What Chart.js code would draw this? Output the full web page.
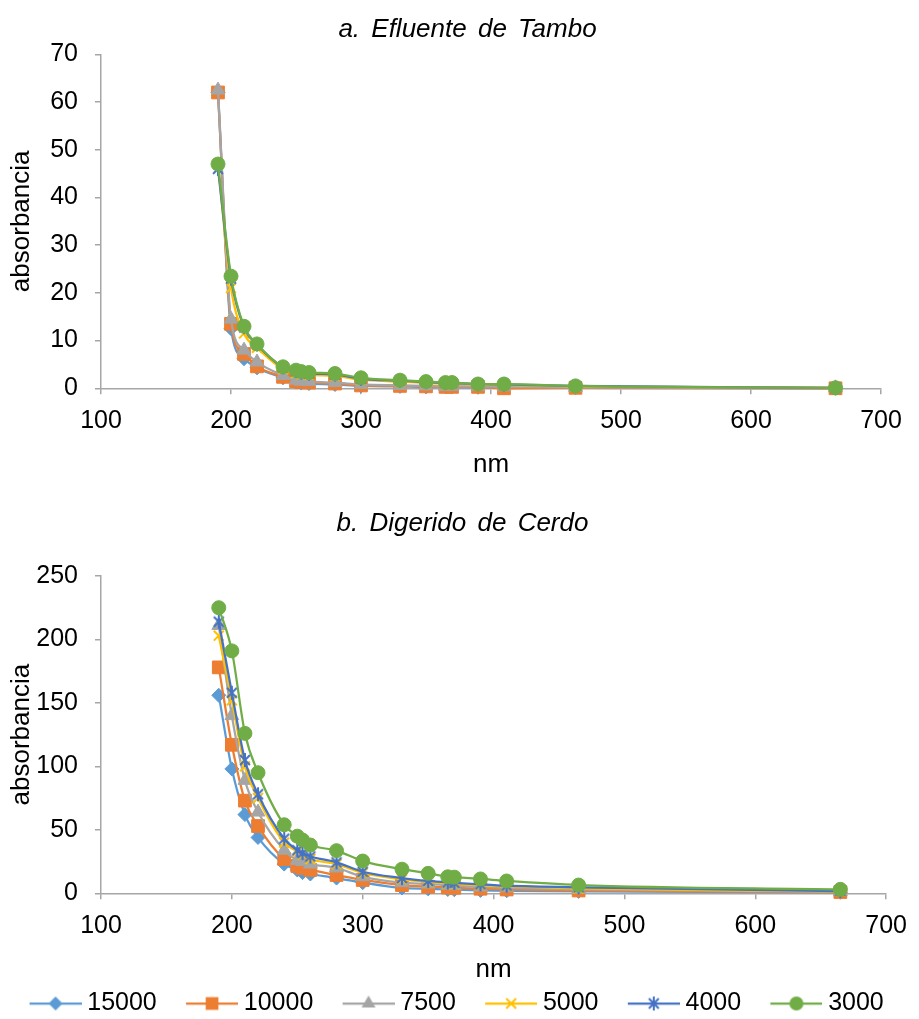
<!DOCTYPE html>
<html>
<head>
<meta charset="utf-8">
<script src="https://cdn.jsdelivr.net/npm/chart.js@4"></script>
<style>
  body { margin: 0; background: #fff; overflow: hidden; }
  canvas { position: absolute; left: 0; }
  #TamboChart { top: 0; }
  #CerdoChart { top: 490px; }
  .panel-title {
    position: absolute; left: 0; width: 919px; height: 26px;
    font: italic 26px "Liberation Sans", Arial, sans-serif; line-height: 26px;
    word-spacing: 4px; color: #000; text-align: center; white-space: pre;
  }
</style>
</head>
<body>
<canvas id="TamboChart" width="919" height="490"></canvas>
<canvas id="CerdoChart" width="919" height="536"></canvas>
<div class="panel-title" style="top:15px; left:8px;">a. Efluente de Tambo</div>
<div class="panel-title" style="top:509px; left:3px;">b. Digerido de Cerdo</div>
<script>
// wavelengths (nm) shared by both panels
const wavelengths = [190, 200, 210, 220, 240, 250, 254, 260, 280, 300, 330, 350, 365, 370, 390, 410, 465, 665];
const seriesNames = ['15000', '10000', '7500', '5000', '4000', '3000'];

// a. Efluente de Tambo
const tambo15000 = [62, 12.5, 6.2, 4.3, 2.2, 1.3, 1.1, 1.0, 0.8, 0.5, 0.4, 0.3, 0.3, 0.3, 0.2, 0.2, 0.1, 0];
const tambo10000 = [62, 13.5, 7.2, 4.6, 2.4, 1.5, 1.3, 1.2, 1.0, 0.6, 0.5, 0.4, 0.3, 0.3, 0.3, 0.0, 0.1, 0];
const tambo7500  = [62.5, 14.5, 8, 5.5, 2.7, 1.7, 1.5, 1.4, 1.2, 0.8, 0.6, 0.5, 0.4, 0.4, 0.4, 0.3, 0.2, 0.1];
const tambo5000  = [47, 21, 11.5, 8.5, 4, 3.2, 3.0, 2.8, 2.6, 1.8, 1.4, 1.1, 1.0, 1.0, 0.8, 0.7, 0.4, 0.1];
const tambo4000  = [46, 23, 12.8, 9.2, 4.4, 3.6, 3.3, 3.1, 2.9, 2.0, 1.6, 1.3, 1.1, 1.1, 0.9, 0.8, 0.5, 0.1];
const tambo3000  = [47, 23.5, 13, 9.3, 4.5, 3.8, 3.5, 3.3, 3.1, 2.2, 1.7, 1.4, 1.2, 1.2, 0.9, 0.9, 0.5, 0.1];

// b. Digerido de Cerdo
const cerdo15000 = [156, 98, 62, 44, 23, 18.4, 16.3, 15.2, 12, 8.4, 4.2, 3.5, 3, 2.8, 2.3, 2, 1.5, 0.8];
const cerdo10000 = [178, 117, 73, 53, 27, 21.5, 20, 18.4, 14.4, 10.5, 6.5, 5.2, 4.5, 4.3, 3.6, 3, 2.2, 1];
const cerdo7500  = [211, 140, 89, 64, 34, 26, 25, 23, 20, 13, 8.4, 7.3, 6.3, 6, 5, 4.3, 3, 1.3];
const cerdo5000  = [203, 152, 100, 75, 40, 33, 30.5, 27, 23, 16, 11, 9, 7.7, 7.4, 6.3, 5.5, 3.8, 1.5];
const cerdo4000  = [214, 158, 105, 78, 43, 34, 31.7, 29, 24.4, 17, 12, 9.7, 8.5, 8.2, 7, 6, 4.7, 1.8];
const cerdo3000  = [225, 191, 126, 95, 54, 45, 42, 38, 33.6, 25.4, 19, 15.7, 13, 12.7, 11.3, 9.7, 6.5, 3.1];

const xTicks = { min: 100, max: 700, step: 100 };
const tamboY = { min: 0, max: 70, step: 10 };
const cerdoY = { min: 0, max: 250, step: 50 };

let colors = ['#5B9BD5', '#ED7D31', '#A5A5A5', '#FFC000', '#4472C4', '#70AD47'];
let markers = ['rectRot', 'rect', 'triangle', 'crossRot', 'asterisk', 'circle'];
let markerSize = [7, 9, 8, 7, 7, 7];
let AxisGray = '#A6A6A6';

Chart.defaults.font.family = '"Liberation Sans", Arial, sans-serif';
Chart.defaults.font.size = 25;
Chart.defaults.color = '#000';

// draws one marker shape (used for the legend pictures and the asterisk)
function drawMarker(ctx, style, cx, cy, r) {
    ctx.beginPath();
    if (style === 'rectRot') {
        ctx.moveTo(cx, cy - r); ctx.lineTo(cx + r, cy); ctx.lineTo(cx, cy + r); ctx.lineTo(cx - r, cy);
        ctx.closePath(); ctx.fill();
    } else if (style === 'rect') {
        let s = r * Math.SQRT1_2;
        ctx.rect(cx - s, cy - s, 2 * s, 2 * s); ctx.fill();
    } else if (style === 'triangle') {
        for (let k = 0; k < 3; k++) {
            let a = k * 2 * Math.PI / 3;
            ctx.lineTo(cx + Math.sin(a) * r, cy - Math.cos(a) * r);
        }
        ctx.closePath(); ctx.fill();
    } else if (style === 'circle') {
        ctx.arc(cx, cy, r, 0, 2 * Math.PI); ctx.fill();
    } else {
        let d = r * Math.SQRT1_2;
        ctx.moveTo(cx - d, cy - d); ctx.lineTo(cx + d, cy + d);
        ctx.moveTo(cx + d, cy - d); ctx.lineTo(cx - d, cy + d);
        if (style === 'asterisk') {
            ctx.moveTo(cx, cy - r); ctx.lineTo(cx, cy + r);
        }
        ctx.stroke();
    }
}

// Excel style asterisk (X with a vertical bar) as an image point style
function makeAsterisk(color, r) {
    let c = document.createElement('canvas');
    c.width = 2 * r + 4; c.height = 2 * r + 4;
    let ctx = c.getContext('2d');
    ctx.strokeStyle = color;
    ctx.lineWidth = 2;
    drawMarker(ctx, 'asterisk', c.width / 2, c.height / 2, r);
    return c;
}
let asteriskImg = makeAsterisk(colors[4], markerSize[4]);

function makeIcon(i) {
    let c = document.createElement('canvas');
    c.width = 78; c.height = 22;
    let ctx = c.getContext('2d');
    ctx.strokeStyle = colors[i];
    ctx.fillStyle = colors[i];
    ctx.lineWidth = 2.25;
    ctx.beginPath(); ctx.moveTo(26, 11); ctx.lineTo(78, 11); ctx.stroke();
    ctx.lineWidth = 2;
    drawMarker(ctx, markers[i], 52, 11, markerSize[i]);
    return c;
}
let icons = seriesNames.map((n, i) => makeIcon(i));

function buildDatasets(series) {
    return series.map((values, i) => ({
        label: seriesNames[i],
        data: values.map((v, j) => ({ x: wavelengths[j], y: v })),
        borderColor: colors[i],
        backgroundColor: colors[i],
        borderWidth: 2.25,
        pointStyle: markers[i] === 'asterisk' ? asteriskImg : markers[i],
        pointRadius: markerSize[i],
        pointBorderWidth: markers[i] === 'crossRot' ? 2 : 1,
        pointBackgroundColor: colors[i],
        pointBorderColor: colors[i],
        cubicInterpolationMode: 'monotone',
        clip: false,
        order: series.length - i
    }));
}

function makeChart(id, series, yRange, opt) {
    let ctx = document.getElementById(id).getContext('2d');
    return new Chart(ctx, {
        type: 'line',
        data: { datasets: buildDatasets(series) },
        options: {
            responsive: false,
            animation: false,
            layout: { padding: { left: 0, right: opt.padRight, top: opt.padTop, bottom: 0 } },
            plugins: {
                tooltip: { enabled: false },
                title: { display: false },
                legend: opt.legend ? {
                    display: true,
                    position: 'bottom',
                    labels: {
                        usePointStyle: true,
                        pointStyleWidth: 64.5,
                        padding: 10,
                        color: '#000',
                        font: { size: 25 },
                        generateLabels: chart => chart.data.datasets.map((ds, i) => ({
                            text: ds.label,
                            pointStyle: icons[i],
                            datasetIndex: i,
                            hidden: false,
                            lineWidth: 0,
                            fontColor: '#000',
                            fillStyle: 'transparent',
                            strokeStyle: 'transparent'
                        }))
                    }
                } : { display: false }
            },
            scales: {
                x: {
                    type: 'linear',
                    min: xTicks.min,
                    max: xTicks.max,
                    ticks: { stepSize: xTicks.step, padding: 12, font: { size: 25 } },
                    grid: { drawOnChartArea: false, drawTicks: true, tickLength: 6, color: AxisGray, lineWidth: 1.5 },
                    border: { color: AxisGray, width: 1.5 },
                    title: { display: true, text: 'nm', font: { size: 26 }, padding: { top: 0, bottom: opt.nmPad } },
                    afterFit: scale => { scale.height = opt.xHeight; }
                },
                y: {
                    min: yRange.min,
                    max: yRange.max,
                    ticks: { stepSize: yRange.step, padding: 17, font: { size: 25 } },
                    grid: { drawOnChartArea: false, drawTicks: true, tickLength: 6, color: AxisGray, lineWidth: 1.5 },
                    border: { color: AxisGray, width: 1.5 },
                    title: { display: true, text: 'absorbancia', font: { size: 26 }, padding: { top: 6.4, bottom: 0 } },
                    afterFit: scale => { scale.width = 101; }
                }
            }
        }
    });
}

makeChart('TamboChart',
    [tambo15000, tambo10000, tambo7500, tambo5000, tambo4000, tambo3000], tamboY,
    { padRight: 38, padTop: 54.3, xHeight: 101.7, nmPad: 9.6, legend: false });

makeChart('CerdoChart',
    [cerdo15000, cerdo10000, cerdo7500, cerdo5000, cerdo4000, cerdo3000], cerdoY,
    { padRight: 25, padTop: 86, xHeight: 87.7, nmPad: -4, legend: true });
</script>
</body>
</html>
